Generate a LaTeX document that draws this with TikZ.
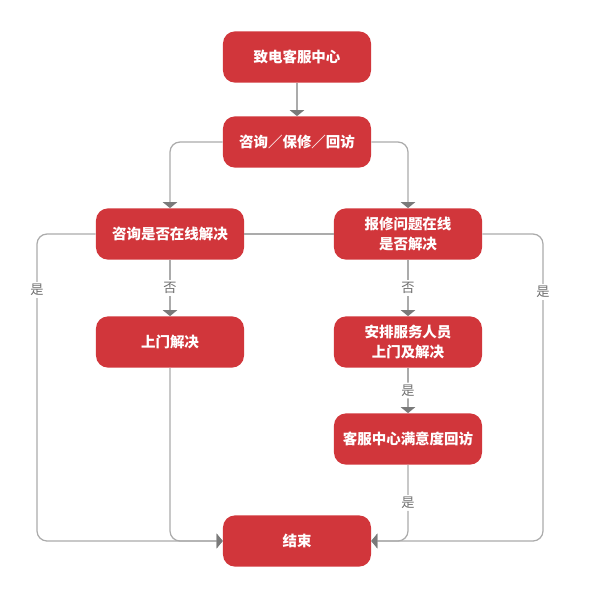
\documentclass[tikz,border=0pt]{standalone}
\usepackage{fontspec}
\newfontfamily\cjk{Noto Sans CJK SC}
\usetikzlibrary{arrows.meta}
\definecolor{boxred}{HTML}{D1363B}
\definecolor{lineg}{HTML}{ABABAB}
\definecolor{tipg}{HTML}{7A7A7A}
\definecolor{lblg}{HTML}{707070}
\tikzset{
	stepbox/.style={fill=boxred, text=white, rounded corners=0.3cm, minimum width=3.7cm, minimum height=1.28cm,
		align=center, font=\cjk\bfseries\fontsize{10.3}{14.5}\selectfont},
	flow/.style={draw=lineg, line width=0.9pt, rounded corners=0.25cm},
	tip/.style={-{Triangle[width=0.36cm,length=0.15cm,color=tipg]}},
	lbl/.style={fill=white, text=lblg, inner sep=1.5pt, font=\cjk\fontsize{9.4}{11}\selectfont}
}
\begin{document}
\begin{tikzpicture}[x=0.025cm, y=-0.025cm]
	\useasboundingbox (0,0) rectangle (600,600);
	% boxes
	\node[stepbox] (call) at (297,57) {致电客服中心};
	\node[stepbox] (hub) at (297,142) {咨询／保修／回访};
	\node[stepbox] (ask) at (170,234) {咨询是否在线解决};
	\node[stepbox] (fix) at (408,234) {报修问题在线\\是否解决};
	\node[stepbox] (door) at (170,342) {上门解决};
	\node[stepbox] (send) at (408,342) {安排服务人员\\上门及解决};
	\node[stepbox] (visit) at (408,439) {客服中心满意度回访};
	\node[stepbox] (end) at (297,541) {结束};
	\coordinate (lc) at (37,541);
	\coordinate (rc) at (543,541);
	% connectors
	\draw[flow, tip] (call) -- (hub);
	\draw[flow, tip] (hub.west) -| (ask.north);
	\draw[flow, tip] (hub.east) -| (fix.north);
	\draw[flow] (ask.east) -- (fix.west);
	\draw[flow, tip] (ask.west) -| (lc) -- (end.west);
	\draw[flow, tip] (door.south) |- (end.west);
	\draw[flow, tip] (fix.east) -| (rc) -- (end.east);
	\draw[flow, tip] (ask.south) -- node[lbl] (no1) {否} (door.north);
	\draw[flow, tip] (fix.south) -- node[lbl] (no2) {否} (send.north);
	\draw[flow, tip] (send.south) -- node[lbl] (yes3) {是} (visit.north);
	\draw[flow, tip] (visit.south) |- node[lbl, pos=0.25] (yes4) {是} (end.east);
	\node[lbl] (yes1) at (37,290) {是};
	\node[lbl] (yes2) at (543,292) {是};
\end{tikzpicture}
\end{document}
